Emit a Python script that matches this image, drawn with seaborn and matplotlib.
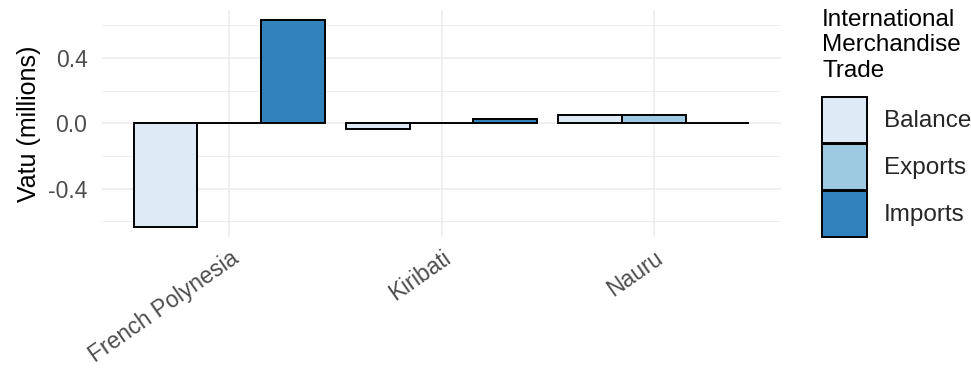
import numpy as np
import pandas as pd
import seaborn as sns
import matplotlib.pyplot as plt
import matplotlib.patches as mpatches
from matplotlib.ticker import FixedLocator, FormatStrFormatter

# data
countries = ["French Polynesia", "Kiribati", "Nauru"]
flows = ["Balance", "Exports", "Imports"]
balance = [-0.633, -0.034, 0.048]
exports = [0.0, 0.0, 0.048]
imports = [0.630, 0.028, 0.0]
flow_colors = ["#deebf7", "#9ecae1", "#3182bd"]


def main():
    rows = []
    for i, c in enumerate(countries):
        rows.append((c, "Balance", balance[i]))
        rows.append((c, "Exports", exports[i]))
        rows.append((c, "Imports", imports[i]))
    df = pd.DataFrame(rows, columns=["country", "flow", "value"])

    sns.set_theme(style="white")
    plt.rcParams["font.family"] = ["Liberation Sans", "DejaVu Sans"]
    plt.rcParams["axes.unicode_minus"] = False

    fig = plt.figure(figsize=(9.71, 3.68), dpi=100)
    ax = fig.add_axes([102 / 971, 1 - 237 / 368, 679 / 971, 227 / 368])

    sns.barplot(data=df, x="country", y="value", hue="flow", order=countries,
                hue_order=flows, palette=flow_colors, saturation=1, width=0.9,
                gap=0, edgecolor="black", linewidth=1.4, legend=False, ax=ax,
                zorder=3)

    # ggplot-like expansion of the scales
    lo, hi = df["value"].min(), df["value"].max()
    pad = 0.05 * (hi - lo)
    ax.set_ylim(lo - pad, hi + pad)
    ax.set_xlim(-0.6, len(countries) - 0.4)

    ax.yaxis.set_major_locator(FixedLocator([-0.4, 0.0, 0.4]))
    ax.yaxis.set_minor_locator(FixedLocator([-0.6, -0.2, 0.2, 0.6]))
    ax.yaxis.set_major_formatter(FormatStrFormatter("%.1f"))
    ax.grid(True, which="major", axis="both", color="#ebebeb", linewidth=1.1)
    ax.grid(True, which="minor", axis="y", color="#ebebeb", linewidth=0.6)
    ax.set_axisbelow(True)
    for s in ax.spines.values():
        s.set_visible(False)

    ax.tick_params(axis="both", which="both", length=0, labelsize=16.5,
                   labelcolor="#4d4d4d")
    ax.tick_params(axis="y", pad=10.5)
    ax.tick_params(axis="x", pad=7)
    plt.setp(ax.get_xticklabels(), rotation=35, ha="right",
             rotation_mode="anchor", va="top")

    ax.set_xlabel("")
    ax.set_ylabel("Vatu (millions)", fontsize=18, color="black", labelpad=5)

    # legend
    fig.text(822 / 971, 1 - 9 / 368, "International\nMerchandise\nTrade",
             ha="left", va="top", fontsize=17.5, color="black", linespacing=1.2)
    handles = [mpatches.Patch(facecolor=col, edgecolor="black", linewidth=1.4,
                              label=f) for f, col in zip(flows, flow_colors)]
    fig.legend(handles=handles, loc="upper left",
               bbox_to_anchor=(822 / 971, 1 - 97 / 368), frameon=False,
               fontsize=17.5, borderpad=0, borderaxespad=0,
               handlelength=1.85, handleheight=2.53, labelspacing=0.04,
               handletextpad=0.7)

    fig.savefig("out.png", dpi=100)


if __name__ == '__main__':
    main()
